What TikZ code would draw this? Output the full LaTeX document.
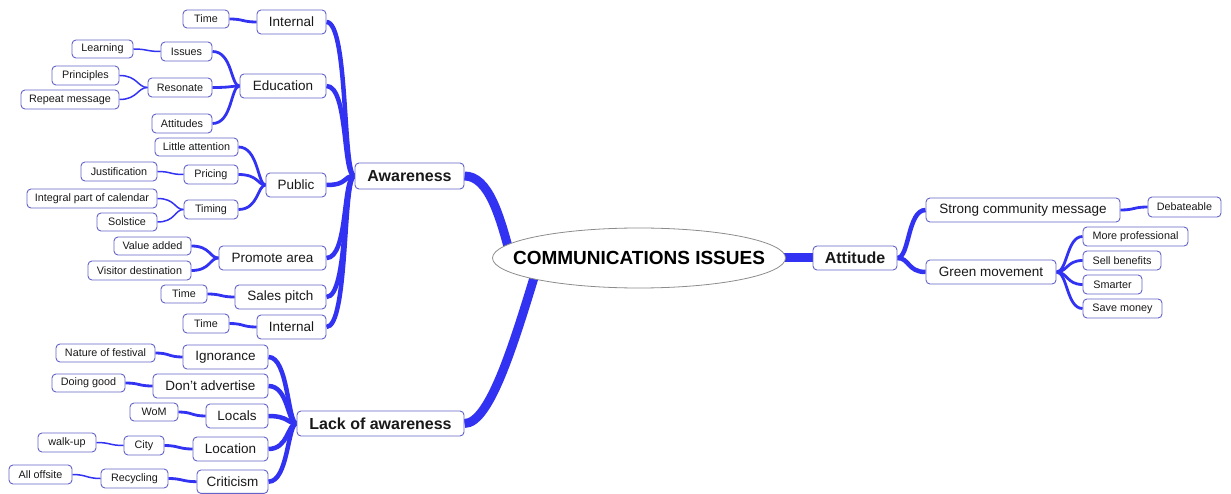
\documentclass[tikz,border=0pt]{standalone}
\usepackage{fontspec}
\setmainfont{Liberation Sans}
\usetikzlibrary{shapes.geometric,backgrounds}
\definecolor{lnk}{RGB}{50,50,242}
\definecolor{bdr}{RGB}{100,100,200}
\definecolor{txt}{RGB}{25,25,25}
\newcommand\nd[7]{\node[#6, minimum width={(#4-#2)*1pt}, minimum height={(#5-#3)*1pt}] (#1) at ({(#2+#4)/2},{(#3+#5)/2}) {#7};}
% left side: child east -> parent west
\newcommand\lc[5]{\draw[#1] (#2.east) .. controls +(#4,0) and +(-#5,0) .. (#3.west);}
% right side: parent east -> child west
\newcommand\rc[5]{\draw[#1] (#2.east) .. controls +(#4,0) and +(-#5,0) .. (#3.west);}
\begin{document}
\begin{tikzpicture}[x=1pt,y=-1pt,
  box/.style={draw=bdr, line width=0.9pt, fill=white, rounded corners=4pt, inner sep=0pt, text=txt},
  mainbox/.style={box, font=\fontsize{16}{19}\selectfont\bfseries},
  subbox/.style={box, font=\fontsize{13.5}{16}\selectfont},
  smallbox/.style={box, font=\fontsize{10.8}{12}\selectfont},
  centre/.style={ellipse, draw=black!45, line width=0.8pt, fill=white, inner sep=0pt},
  centretext/.style={font=\fontsize{19}{22}\selectfont\bfseries, text=black, inner sep=0pt},
  Lone/.style={draw=lnk, line width=9pt},
  Ltwo/.style={draw=lnk, line width=4.5pt},
  Lthree/.style={draw=lnk, line width=2.8pt},
  Lfour/.style={draw=lnk, line width=1.5pt}]
\useasboundingbox (0,0) rectangle (1231,494);

% ---------- Awareness branch ----------
\nd{ctimeA}{183}{10}{229}{28}{smallbox}{Time}
\nd{intA}{257}{10}{326}{34}{subbox}{Internal}
\nd{learn}{72}{40}{133}{58}{smallbox}{Learning}
\nd{issues}{161}{42}{212}{61}{smallbox}{Issues}
\nd{edu}{240}{74}{326}{98}{subbox}{Education}
\nd{princ}{52}{66}{119}{85}{smallbox}{Principles}
\nd{repeat}{21}{90}{119}{109}{smallbox}{Repeat message}
\nd{reson}{148}{78}{212}{97}{smallbox}{Resonate}
\nd{attit}{152}{114}{212}{133}{smallbox}{Attitudes}
\nd{little}{155}{138}{238}{156}{smallbox}{Little attention}
\nd{justif}{81}{162}{157}{181}{smallbox}{Justification}
\nd{pricing}{184}{165}{238}{184}{smallbox}{Pricing}
\nd{public}{266}{173}{326}{197}{subbox}{Public}
\nd{integral}{27}{189}{157}{208}{smallbox}{Integral part of calendar}
\nd{solstice}{97}{213}{157}{231}{smallbox}{Solstice}
\nd{timing}{184}{200}{238}{219}{smallbox}{Timing}
\nd{value}{114}{237}{191}{255}{smallbox}{Value added}
\nd{visitor}{88}{261}{191}{280}{smallbox}{Visitor destination}
\nd{promote}{219}{246}{326}{270}{subbox}{Promote area}
\nd{stime}{161}{285}{207}{303}{smallbox}{Time}
\nd{sales}{235}{285}{326}{309}{subbox}{Sales pitch}
\nd{ctimeB}{183}{314}{229}{333}{smallbox}{Time}
\nd{intB}{257}{315}{326}{339}{subbox}{Internal}
\nd{aware}{355}{163}{464}{189}{mainbox}{Awareness}

% ---------- Lack of awareness branch ----------
\nd{nature}{56}{344}{155}{362}{smallbox}{Nature of festival}
\nd{ignor}{183}{345}{268}{369}{subbox}{Ignorance}
\nd{doing}{52}{374}{125}{392}{smallbox}{Doing good}
\nd{dont}{153}{374}{268}{398}{subbox}{Don't advertise}
\nd{wom}{130}{403}{178}{421}{smallbox}{WoM}
\nd{locals}{206}{404}{268}{428}{subbox}{Locals}
\nd{walk}{38}{433}{96}{452}{smallbox}{walk-up}
\nd{city}{124}{436}{164}{455}{smallbox}{City}
\nd{location}{193}{437}{268}{461}{subbox}{Location}
\nd{offsite}{9}{465}{72}{484}{smallbox}{All offsite}
\nd{recyc}{101}{469}{168}{488}{smallbox}{Recycling}
\nd{critic}{197}{470}{268}{493.4}{subbox}{Criticism}
\nd{lack}{297}{411}{464}{436}{mainbox}{Lack of awareness}

% ---------- centre ----------
\node[centre, minimum width=293pt, minimum height=60pt] (ctr) at (639,258) {};
\node[centretext] (ctrtext) at (ctr.center) {COMMUNICATIONS ISSUES};
\coordinate (hubA) at (512,262);
\coordinate (hubB) at (540,258);

% ---------- Attitude branch ----------
\nd{attitude}{813}{246}{897}{270}{mainbox}{Attitude}
\nd{strong}{926}{198}{1120}{222}{subbox}{Strong community message}
\nd{debate}{1148}{197}{1221}{217}{smallbox}{Debateable}
\nd{green}{926}{260}{1056}{284}{subbox}{Green movement}
\nd{more}{1083}{227}{1188}{246}{smallbox}{More professional}
\nd{sell}{1083}{251}{1161}{270}{smallbox}{Sell benefits}
\nd{smarter}{1083}{275}{1142}{294}{smallbox}{Smarter}
\nd{save}{1083}{299}{1162}{318}{smallbox}{Save money}

\begin{scope}[on background layer, line cap=round]
% main branches
\draw[Lone] (aware.east) .. controls +(24,0) and (500,215) .. (hubA);
\draw[Lone] (lack.east) .. controls +(26,0) and (515,340) .. (hubB);
\draw[Lone, line cap=butt] (ctr.center) -- (attitude.west);
% Awareness children
\lc{Ltwo}{intA}{aware}{22}{12}
\lc{Ltwo}{edu}{aware}{22}{12}
\lc{Ltwo}{public}{aware}{22}{12}
\lc{Ltwo}{promote}{aware}{22}{12}
\lc{Ltwo}{sales}{aware}{22}{12}
\lc{Ltwo}{intB}{aware}{22}{12}
% grandchildren
\lc{Lthree}{ctimeA}{intA}{14}{14}
\lc{Lthree}{issues}{edu}{20}{9}
\lc{Lthree}{reson}{edu}{20}{9}
\lc{Lthree}{attit}{edu}{20}{9}
\lc{Lfour}{learn}{issues}{14}{14}
\lc{Lfour}{princ}{reson}{18}{10}
\lc{Lfour}{repeat}{reson}{18}{10}
\lc{Lthree}{little}{public}{20}{8}
\lc{Lthree}{pricing}{public}{20}{8}
\lc{Lthree}{timing}{public}{20}{8}
\lc{Lfour}{justif}{pricing}{14}{14}
\lc{Lfour}{integral}{timing}{18}{9}
\lc{Lfour}{solstice}{timing}{18}{9}
\lc{Lthree}{value}{promote}{19}{9}
\lc{Lthree}{visitor}{promote}{19}{9}
\lc{Lthree}{stime}{sales}{14}{14}
\lc{Lthree}{ctimeB}{intB}{14}{14}
% Lack of awareness children
\lc{Ltwo}{ignor}{lack}{20}{9}
\lc{Ltwo}{dont}{lack}{20}{9}
\lc{Ltwo}{locals}{lack}{20}{9}
\lc{Ltwo}{location}{lack}{20}{9}
\lc{Ltwo}{critic}{lack}{20}{9}
\lc{Lthree}{nature}{ignor}{14}{14}
\lc{Lthree}{doing}{dont}{14}{14}
\lc{Lthree}{wom}{locals}{14}{14}
\lc{Lthree}{city}{location}{14}{14}
\lc{Lfour}{walk}{city}{14}{14}
\lc{Lthree}{recyc}{critic}{14}{14}
\lc{Lfour}{offsite}{recyc}{14}{14}
% Attitude children
\rc{Ltwo}{attitude}{strong}{12}{18}
\rc{Ltwo}{attitude}{green}{12}{18}
\rc{Lthree}{strong}{debate}{14}{14}
\rc{Lthree}{green}{more}{11}{16}
\rc{Lthree}{green}{sell}{11}{16}
\rc{Lthree}{green}{smarter}{11}{16}
\rc{Lthree}{green}{save}{11}{16}
\end{scope}
\end{tikzpicture}
\end{document}
